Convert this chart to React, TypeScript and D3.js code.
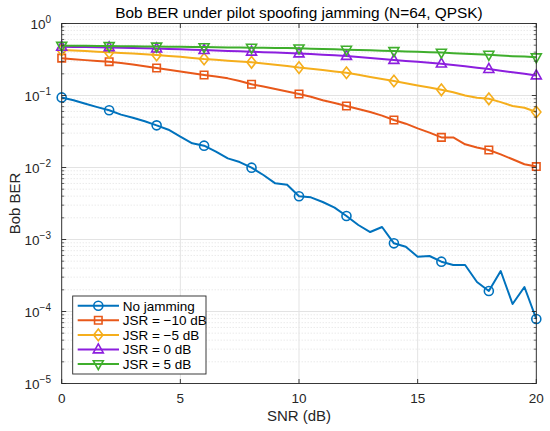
import * as d3 from "d3";

// SNR sweep (dB), 0.5 dB steps; markers every 2 dB
const snr = [
  0, 0.5, 1, 1.5, 2, 2.5, 3, 3.5, 4, 4.5, 5, 5.5, 6, 6.5, 7, 7.5, 8, 8.5, 9, 9.5, 10,
  10.5, 11, 11.5, 12, 12.5, 13, 13.5, 14, 14.5, 15, 15.5, 16, 16.5, 17, 17.5, 18, 18.5, 19, 19.5, 20,
];

const berNoJam = [
  0.094, 0.086, 0.077, 0.069, 0.0623, 0.0542, 0.0492, 0.0438, 0.0385, 0.0335, 0.0268, 0.0217, 0.0201,
  0.0166, 0.0134, 0.0119, 0.00994, 0.00787, 0.00603, 0.00577, 0.00398, 0.00385, 0.00332, 0.00277,
  0.00212, 0.00159, 0.00127, 0.00149, 0.000885, 0.000794, 0.000577, 0.00059, 0.000492, 0.000443,
  0.000443, 0.000257, 0.000193, 0.000365, 0.000127, 0.000219, 0.0000787,
];
const berJsrM10 = [
  0.33, 0.32, 0.31, 0.302, 0.295, 0.283, 0.27, 0.255, 0.241, 0.228, 0.216, 0.204, 0.193, 0.184, 0.173,
  0.159, 0.143, 0.133, 0.123, 0.114, 0.105, 0.0963, 0.0857, 0.0787, 0.0715, 0.0649, 0.059, 0.0525,
  0.0457, 0.0406, 0.035, 0.0305, 0.0262, 0.0262, 0.021, 0.019, 0.0175, 0.0152, 0.013, 0.0111, 0.0103,
];
const berJsrM5 = [
  0.428, 0.421, 0.414, 0.405, 0.398, 0.39, 0.383, 0.374, 0.365, 0.355, 0.345, 0.333, 0.321, 0.313,
  0.305, 0.297, 0.289, 0.279, 0.268, 0.257, 0.244, 0.235, 0.226, 0.216, 0.207, 0.194, 0.181, 0.17,
  0.159, 0.148, 0.138, 0.129, 0.12, 0.111, 0.1, 0.093, 0.09, 0.081, 0.0715, 0.0677, 0.059,
];
const berJsr0 = [
  0.475, 0.473, 0.471, 0.469, 0.466, 0.461, 0.457, 0.453, 0.449, 0.443, 0.438, 0.432, 0.427, 0.421,
  0.416, 0.411, 0.405, 0.4, 0.395, 0.39, 0.384, 0.377, 0.369, 0.362, 0.354, 0.343, 0.332, 0.321,
  0.311, 0.302, 0.294, 0.285, 0.277, 0.265, 0.254, 0.243, 0.233, 0.221, 0.21, 0.2, 0.19,
];
const berJsr5 = [
  0.49, 0.49, 0.489, 0.488, 0.487, 0.485, 0.483, 0.481, 0.479, 0.477, 0.475, 0.472, 0.47, 0.467,
  0.465, 0.463, 0.461, 0.459, 0.457, 0.455, 0.452, 0.447, 0.443, 0.438, 0.433, 0.428, 0.424, 0.419,
  0.415, 0.41, 0.404, 0.399, 0.394, 0.387, 0.381, 0.375, 0.369, 0.36, 0.352, 0.347, 0.34,
];

const seriesNames = ["No jamming", "JSR = \u221210 dB", "JSR = \u22125 dB", "JSR = 0 dB", "JSR = 5 dB"];
const seriesColors = ["#0072BD", "#E8581A", "#F5AE1C", "#8C1EDE", "#3FAE2C"];
const seriesMarkers = ["circle", "square", "diamond", "triUp", "triDown"];
const seriesValues = [berNoJam, berJsrM10, berJsrM5, berJsr0, berJsr5];

const xTicks = [0, 5, 10, 15, 20];
const yExponents = [0, -1, -2, -3, -4, -5];

const W = 550;
const H = 431;
const left = 61.7;
const right = 536.3;
const top = 23.5;
const bottom = 383.5;
const font = "'Liberation Sans', Arial, Helvetica, sans-serif";
const axisColor = "#262626";

function markerPath(kind: string) {
  switch (kind) {
    case "circle":
      return d3.symbol(d3.symbolCircle, 64)()!;
    case "square":
      return d3.symbol(d3.symbolSquare, 56)()!;
    case "diamond":
      return "M0,-5.8L4.6,0L0,5.8L-4.6,0Z";
    case "triUp":
      return "M0,-5.6L5,3.4L-5,3.4Z";
    default:
      return "M0,5.6L5,-3.4L-5,-3.4Z";
  }
}

export default function App() {
  const x = d3.scaleLinear().domain([0, 20]).range([left, right]);
  const y = d3.scaleLog().domain([1e-5, 1]).range([bottom, top]);

  const line = d3
    .line<number>()
    .x((_, i) => x(snr[i]))
    .y((d) => y(d));

  const minorY: number[] = [];
  for (let e = -5; e < 0; e++) {
    for (let m = 2; m <= 9; m++) minorY.push(m * Math.pow(10, e));
  }

  const legendX = 72.7;
  const legendY = 296;
  const rowH = 14.6;

  return (
    <div>
      <style>{`body{margin:0}`}</style>
      <svg width={W} height={H} style={{ display: "block", background: "#fff" }} fontFamily={font}>
        <rect x={0} y={0} width={W} height={H} fill="#fff" />

        {/* grid */}
        {minorY.map((v) => (
          <line key={"mg" + v} x1={left} x2={right} y1={y(v)} y2={y(v)} stroke="#d4d4d4" strokeWidth={0.7} strokeDasharray="1,2" />
        ))}
        {yExponents.map((e) => (
          <line key={"gy" + e} x1={left} x2={right} y1={y(Math.pow(10, e))} y2={y(Math.pow(10, e))} stroke="#e3e3e3" strokeWidth={1} />
        ))}
        {xTicks.map((t) => (
          <line key={"gx" + t} x1={x(t)} x2={x(t)} y1={top} y2={bottom} stroke="#e3e3e3" strokeWidth={1} />
        ))}

        {/* series */}
        {seriesValues.map((vals, si) => (
          <g key={"s" + si}>
            <path d={line(vals) ?? undefined} fill="none" stroke={seriesColors[si]} strokeWidth={2} strokeLinejoin="round" />
            {vals.map((v, i) =>
              i % 4 === 0 ? (
                <path
                  key={i}
                  d={markerPath(seriesMarkers[si])}
                  transform={`translate(${x(snr[i])},${y(v)})`}
                  fill="none"
                  stroke={seriesColors[si]}
                  strokeWidth={1.6}
                />
              ) : null
            )}
          </g>
        ))}

        {/* axes box and ticks */}
        <rect x={left} y={top} width={right - left} height={bottom - top} fill="none" stroke={axisColor} strokeWidth={0.9} />
        {xTicks.map((t) => (
          <g key={"xt" + t}>
            <line x1={x(t)} x2={x(t)} y1={bottom} y2={bottom - 4.5} stroke={axisColor} strokeWidth={0.9} />
            <line x1={x(t)} x2={x(t)} y1={top} y2={top + 4.5} stroke={axisColor} strokeWidth={0.9} />
            <text x={x(t)} y={bottom + 19.5} textAnchor="middle" fontSize={13.5} fill={axisColor}>
              {t}
            </text>
          </g>
        ))}
        {minorY.map((v) => (
          <g key={"myt" + v}>
            <line x1={left} x2={left + 2.5} y1={y(v)} y2={y(v)} stroke={axisColor} strokeWidth={0.7} />
            <line x1={right} x2={right - 2.5} y1={y(v)} y2={y(v)} stroke={axisColor} strokeWidth={0.7} />
          </g>
        ))}
        {yExponents.map((e) => {
          const yy = y(Math.pow(10, e));
          return (
            <g key={"yt" + e}>
              <line x1={left} x2={left + 4.5} y1={yy} y2={yy} stroke={axisColor} strokeWidth={0.9} />
              <line x1={right} x2={right - 4.5} y1={yy} y2={yy} stroke={axisColor} strokeWidth={0.9} />
              <text x={51} y={yy + 5.5} textAnchor="end" fontSize={13.5} fill={axisColor}>
                10
                <tspan dy={-6.5} fontSize={10}>
                  {e === 0 ? "0" : "\u2212" + -e}
                </tspan>
              </text>
            </g>
          );
        })}

        {/* labels */}
        <text x={(left + right) / 2} y={18} textAnchor="middle" fontSize={15.4} fill="#000">
          Bob BER under pilot spoofing jamming (N=64, QPSK)
        </text>
        <text x={(left + right) / 2} y={420.5} textAnchor="middle" fontSize={15} fill={axisColor}>
          SNR (dB)
        </text>
        <text transform={`translate(19.5,${(top + bottom) / 2}) rotate(-90)`} textAnchor="middle" fontSize={15} fill={axisColor}>
          Bob BER
        </text>

        {/* legend */}
        <rect x={legendX} y={legendY} width={133.3} height={78} fill="#fff" stroke={axisColor} strokeWidth={0.9} />
        {seriesNames.map((name, si) => {
          const ry = legendY + 9.7 + si * rowH;
          return (
            <g key={"lg" + si}>
              <line x1={77.7} x2={119} y1={ry} y2={ry} stroke={seriesColors[si]} strokeWidth={2} />
              <path d={markerPath(seriesMarkers[si])} transform={`translate(98.3,${ry})`} fill="none" stroke={seriesColors[si]} strokeWidth={1.6} />
              <text x={122.7} y={ry + 4.8} fontSize={13.5} fill="#000">
                {name}
              </text>
            </g>
          );
        })}
      </svg>
    </div>
  );
}
